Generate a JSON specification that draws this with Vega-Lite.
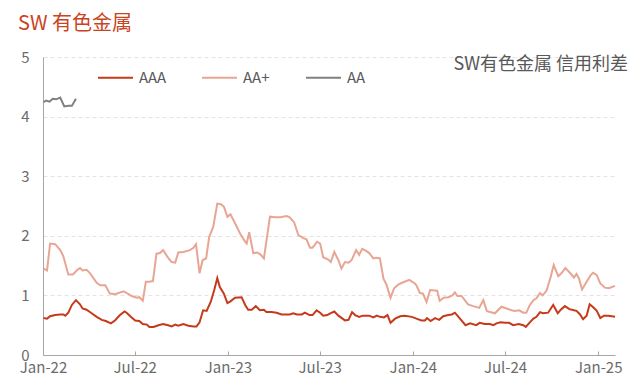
{
"$schema": "https://vega.github.io/schema/vega-lite/v6.json",
"width": 572, "height": 298,
"autosize": {"type": "none"},
"padding": {"left": 43, "top": 57, "right": 25, "bottom": 37},
"background": "white",
"config": {"font": "Noto Sans CJK SC", "view": {"stroke": null}},
"title": {"text": "SW 有色金属", "anchor": "start", "frame": "group", "dx": -25, "offset": 16, "fontSize": 20, "fontWeight": "normal", "color": "#C9431F"},
"layer": [
{"data": {"values": [
{"d":"2022-01-02","s":"AAA","v":0.62},{"d":"2022-01-09","s":"AAA","v":0.61},{"d":"2022-01-15","s":"AAA","v":0.65},{"d":"2022-01-25","s":"AAA","v":0.67},{"d":"2022-02-04","s":"AAA","v":0.68},{"d":"2022-02-10","s":"AAA","v":0.68},{"d":"2022-02-14","s":"AAA","v":0.66},{"d":"2022-02-20","s":"AAA","v":0.71},{"d":"2022-02-27","s":"AAA","v":0.84},{"d":"2022-03-07","s":"AAA","v":0.92},{"d":"2022-03-15","s":"AAA","v":0.85},{"d":"2022-03-20","s":"AAA","v":0.78},{"d":"2022-03-28","s":"AAA","v":0.76},{"d":"2022-04-07","s":"AAA","v":0.70},{"d":"2022-04-17","s":"AAA","v":0.64},{"d":"2022-04-27","s":"AAA","v":0.59},{"d":"2022-05-05","s":"AAA","v":0.57},{"d":"2022-05-15","s":"AAA","v":0.53},{"d":"2022-05-23","s":"AAA","v":0.58},{"d":"2022-06-02","s":"AAA","v":0.67},{"d":"2022-06-11","s":"AAA","v":0.73},{"d":"2022-06-15","s":"AAA","v":0.71},{"d":"2022-06-25","s":"AAA","v":0.63},{"d":"2022-07-02","s":"AAA","v":0.58},{"d":"2022-07-10","s":"AAA","v":0.57},{"d":"2022-07-17","s":"AAA","v":0.52},{"d":"2022-07-25","s":"AAA","v":0.51},{"d":"2022-07-30","s":"AAA","v":0.47},{"d":"2022-08-07","s":"AAA","v":0.47},{"d":"2022-08-17","s":"AAA","v":0.50},{"d":"2022-08-26","s":"AAA","v":0.52},{"d":"2022-09-05","s":"AAA","v":0.50},{"d":"2022-09-12","s":"AAA","v":0.48},{"d":"2022-09-19","s":"AAA","v":0.51},{"d":"2022-09-25","s":"AAA","v":0.49},{"d":"2022-10-05","s":"AAA","v":0.52},{"d":"2022-10-15","s":"AAA","v":0.49},{"d":"2022-10-25","s":"AAA","v":0.48},{"d":"2022-10-31","s":"AAA","v":0.48},{"d":"2022-11-06","s":"AAA","v":0.55},{"d":"2022-11-13","s":"AAA","v":0.75},{"d":"2022-11-20","s":"AAA","v":0.74},{"d":"2022-11-28","s":"AAA","v":0.89},{"d":"2022-12-05","s":"AAA","v":1.09},{"d":"2022-12-11","s":"AAA","v":1.29},{"d":"2022-12-16","s":"AAA","v":1.14},{"d":"2022-12-24","s":"AAA","v":1.03},{"d":"2022-12-31","s":"AAA","v":0.87},{"d":"2023-01-06","s":"AAA","v":0.90},{"d":"2023-01-15","s":"AAA","v":0.96},{"d":"2023-01-28","s":"AAA","v":0.97},{"d":"2023-02-04","s":"AAA","v":0.84},{"d":"2023-02-10","s":"AAA","v":0.76},{"d":"2023-02-17","s":"AAA","v":0.76},{"d":"2023-02-25","s":"AAA","v":0.82},{"d":"2023-03-05","s":"AAA","v":0.75},{"d":"2023-03-13","s":"AAA","v":0.76},{"d":"2023-03-18","s":"AAA","v":0.72},{"d":"2023-03-28","s":"AAA","v":0.72},{"d":"2023-04-07","s":"AAA","v":0.71},{"d":"2023-04-17","s":"AAA","v":0.68},{"d":"2023-04-27","s":"AAA","v":0.68},{"d":"2023-05-03","s":"AAA","v":0.68},{"d":"2023-05-10","s":"AAA","v":0.70},{"d":"2023-05-17","s":"AAA","v":0.68},{"d":"2023-05-27","s":"AAA","v":0.68},{"d":"2023-06-02","s":"AAA","v":0.71},{"d":"2023-06-11","s":"AAA","v":0.67},{"d":"2023-06-17","s":"AAA","v":0.67},{"d":"2023-06-25","s":"AAA","v":0.75},{"d":"2023-07-02","s":"AAA","v":0.71},{"d":"2023-07-08","s":"AAA","v":0.66},{"d":"2023-07-16","s":"AAA","v":0.67},{"d":"2023-07-22","s":"AAA","v":0.70},{"d":"2023-07-30","s":"AAA","v":0.73},{"d":"2023-08-07","s":"AAA","v":0.66},{"d":"2023-08-20","s":"AAA","v":0.58},{"d":"2023-08-27","s":"AAA","v":0.59},{"d":"2023-09-03","s":"AAA","v":0.72},{"d":"2023-09-09","s":"AAA","v":0.67},{"d":"2023-09-17","s":"AAA","v":0.64},{"d":"2023-09-24","s":"AAA","v":0.66},{"d":"2023-10-07","s":"AAA","v":0.66},{"d":"2023-10-15","s":"AAA","v":0.63},{"d":"2023-10-22","s":"AAA","v":0.66},{"d":"2023-10-28","s":"AAA","v":0.64},{"d":"2023-11-05","s":"AAA","v":0.63},{"d":"2023-11-12","s":"AAA","v":0.67},{"d":"2023-11-18","s":"AAA","v":0.54},{"d":"2023-11-27","s":"AAA","v":0.61},{"d":"2023-12-07","s":"AAA","v":0.65},{"d":"2023-12-16","s":"AAA","v":0.66},{"d":"2023-12-30","s":"AAA","v":0.64},{"d":"2024-01-08","s":"AAA","v":0.61},{"d":"2024-01-18","s":"AAA","v":0.58},{"d":"2024-01-25","s":"AAA","v":0.58},{"d":"2024-01-29","s":"AAA","v":0.62},{"d":"2024-02-05","s":"AAA","v":0.57},{"d":"2024-02-14","s":"AAA","v":0.62},{"d":"2024-02-22","s":"AAA","v":0.59},{"d":"2024-03-01","s":"AAA","v":0.65},{"d":"2024-03-11","s":"AAA","v":0.67},{"d":"2024-03-18","s":"AAA","v":0.68},{"d":"2024-03-24","s":"AAA","v":0.71},{"d":"2024-04-03","s":"AAA","v":0.61},{"d":"2024-04-14","s":"AAA","v":0.50},{"d":"2024-04-23","s":"AAA","v":0.53},{"d":"2024-05-05","s":"AAA","v":0.50},{"d":"2024-05-12","s":"AAA","v":0.54},{"d":"2024-05-22","s":"AAA","v":0.52},{"d":"2024-06-01","s":"AAA","v":0.52},{"d":"2024-06-08","s":"AAA","v":0.50},{"d":"2024-06-14","s":"AAA","v":0.53},{"d":"2024-06-22","s":"AAA","v":0.55},{"d":"2024-07-01","s":"AAA","v":0.54},{"d":"2024-07-09","s":"AAA","v":0.54},{"d":"2024-07-17","s":"AAA","v":0.50},{"d":"2024-07-28","s":"AAA","v":0.52},{"d":"2024-08-06","s":"AAA","v":0.50},{"d":"2024-08-11","s":"AAA","v":0.47},{"d":"2024-08-18","s":"AAA","v":0.54},{"d":"2024-08-26","s":"AAA","v":0.61},{"d":"2024-09-01","s":"AAA","v":0.64},{"d":"2024-09-08","s":"AAA","v":0.72},{"d":"2024-09-14","s":"AAA","v":0.70},{"d":"2024-09-24","s":"AAA","v":0.71},{"d":"2024-10-04","s":"AAA","v":0.84},{"d":"2024-10-13","s":"AAA","v":0.70},{"d":"2024-10-19","s":"AAA","v":0.76},{"d":"2024-10-27","s":"AAA","v":0.82},{"d":"2024-11-05","s":"AAA","v":0.77},{"d":"2024-11-14","s":"AAA","v":0.75},{"d":"2024-11-19","s":"AAA","v":0.74},{"d":"2024-11-26","s":"AAA","v":0.68},{"d":"2024-12-02","s":"AAA","v":0.60},{"d":"2024-12-09","s":"AAA","v":0.66},{"d":"2024-12-15","s":"AAA","v":0.85},{"d":"2024-12-22","s":"AAA","v":0.80},{"d":"2024-12-29","s":"AAA","v":0.74},{"d":"2025-01-05","s":"AAA","v":0.62},{"d":"2025-01-12","s":"AAA","v":0.66},{"d":"2025-01-21","s":"AAA","v":0.66},{"d":"2025-02-03","s":"AAA","v":0.64},
{"d":"2022-01-02","s":"AA+","v":1.45},{"d":"2022-01-09","s":"AA+","v":1.42},{"d":"2022-01-15","s":"AA+","v":1.87},{"d":"2022-01-25","s":"AA+","v":1.86},{"d":"2022-02-04","s":"AA+","v":1.76},{"d":"2022-02-10","s":"AA+","v":1.66},{"d":"2022-02-20","s":"AA+","v":1.35},{"d":"2022-03-01","s":"AA+","v":1.35},{"d":"2022-03-10","s":"AA+","v":1.43},{"d":"2022-03-15","s":"AA+","v":1.46},{"d":"2022-03-20","s":"AA+","v":1.42},{"d":"2022-03-28","s":"AA+","v":1.43},{"d":"2022-04-04","s":"AA+","v":1.37},{"d":"2022-04-17","s":"AA+","v":1.21},{"d":"2022-04-24","s":"AA+","v":1.17},{"d":"2022-05-04","s":"AA+","v":1.17},{"d":"2022-05-13","s":"AA+","v":1.03},{"d":"2022-05-23","s":"AA+","v":1.02},{"d":"2022-06-09","s":"AA+","v":1.07},{"d":"2022-06-19","s":"AA+","v":1.02},{"d":"2022-06-25","s":"AA+","v":0.99},{"d":"2022-07-05","s":"AA+","v":0.96},{"d":"2022-07-10","s":"AA+","v":0.97},{"d":"2022-07-17","s":"AA+","v":0.91},{"d":"2022-07-23","s":"AA+","v":1.23},{"d":"2022-07-30","s":"AA+","v":1.23},{"d":"2022-08-06","s":"AA+","v":1.24},{"d":"2022-08-13","s":"AA+","v":1.70},{"d":"2022-08-20","s":"AA+","v":1.71},{"d":"2022-08-26","s":"AA+","v":1.76},{"d":"2022-09-05","s":"AA+","v":1.63},{"d":"2022-09-12","s":"AA+","v":1.56},{"d":"2022-09-19","s":"AA+","v":1.55},{"d":"2022-09-25","s":"AA+","v":1.72},{"d":"2022-10-05","s":"AA+","v":1.73},{"d":"2022-10-18","s":"AA+","v":1.76},{"d":"2022-10-25","s":"AA+","v":1.80},{"d":"2022-10-30","s":"AA+","v":1.86},{"d":"2022-11-06","s":"AA+","v":1.37},{"d":"2022-11-12","s":"AA+","v":1.59},{"d":"2022-11-19","s":"AA+","v":1.62},{"d":"2022-11-25","s":"AA+","v":1.98},{"d":"2022-12-03","s":"AA+","v":2.15},{"d":"2022-12-11","s":"AA+","v":2.54},{"d":"2022-12-18","s":"AA+","v":2.53},{"d":"2022-12-24","s":"AA+","v":2.49},{"d":"2022-12-31","s":"AA+","v":2.32},{"d":"2023-01-06","s":"AA+","v":2.36},{"d":"2023-01-15","s":"AA+","v":2.21},{"d":"2023-01-25","s":"AA+","v":2.04},{"d":"2023-02-04","s":"AA+","v":1.90},{"d":"2023-02-07","s":"AA+","v":1.87},{"d":"2023-02-12","s":"AA+","v":2.06},{"d":"2023-02-20","s":"AA+","v":1.71},{"d":"2023-02-28","s":"AA+","v":1.72},{"d":"2023-03-07","s":"AA+","v":1.68},{"d":"2023-03-13","s":"AA+","v":1.62},{"d":"2023-03-25","s":"AA+","v":2.32},{"d":"2023-04-04","s":"AA+","v":2.31},{"d":"2023-04-14","s":"AA+","v":2.31},{"d":"2023-04-27","s":"AA+","v":2.33},{"d":"2023-05-03","s":"AA+","v":2.31},{"d":"2023-05-12","s":"AA+","v":2.22},{"d":"2023-05-20","s":"AA+","v":2.01},{"d":"2023-05-30","s":"AA+","v":1.96},{"d":"2023-06-05","s":"AA+","v":1.94},{"d":"2023-06-12","s":"AA+","v":1.80},{"d":"2023-06-17","s":"AA+","v":1.80},{"d":"2023-06-26","s":"AA+","v":1.90},{"d":"2023-07-02","s":"AA+","v":1.87},{"d":"2023-07-08","s":"AA+","v":1.64},{"d":"2023-07-18","s":"AA+","v":1.60},{"d":"2023-07-23","s":"AA+","v":1.56},{"d":"2023-07-30","s":"AA+","v":1.73},{"d":"2023-08-07","s":"AA+","v":1.59},{"d":"2023-08-13","s":"AA+","v":1.45},{"d":"2023-08-20","s":"AA+","v":1.56},{"d":"2023-08-27","s":"AA+","v":1.55},{"d":"2023-09-02","s":"AA+","v":1.59},{"d":"2023-09-11","s":"AA+","v":1.76},{"d":"2023-09-17","s":"AA+","v":1.68},{"d":"2023-09-23","s":"AA+","v":1.78},{"d":"2023-09-30","s":"AA+","v":1.75},{"d":"2023-10-07","s":"AA+","v":1.71},{"d":"2023-10-15","s":"AA+","v":1.62},{"d":"2023-10-22","s":"AA+","v":1.63},{"d":"2023-10-28","s":"AA+","v":1.62},{"d":"2023-11-04","s":"AA+","v":1.28},{"d":"2023-11-10","s":"AA+","v":1.18},{"d":"2023-11-18","s":"AA+","v":0.96},{"d":"2023-11-25","s":"AA+","v":1.12},{"d":"2023-12-03","s":"AA+","v":1.18},{"d":"2023-12-13","s":"AA+","v":1.22},{"d":"2023-12-25","s":"AA+","v":1.26},{"d":"2024-01-05","s":"AA+","v":1.20},{"d":"2024-01-08","s":"AA+","v":1.17},{"d":"2024-01-15","s":"AA+","v":1.04},{"d":"2024-01-21","s":"AA+","v":1.03},{"d":"2024-01-28","s":"AA+","v":0.89},{"d":"2024-02-04","s":"AA+","v":1.09},{"d":"2024-02-18","s":"AA+","v":1.08},{"d":"2024-02-23","s":"AA+","v":0.91},{"d":"2024-03-02","s":"AA+","v":0.96},{"d":"2024-03-11","s":"AA+","v":0.97},{"d":"2024-03-19","s":"AA+","v":1.00},{"d":"2024-03-24","s":"AA+","v":1.05},{"d":"2024-03-29","s":"AA+","v":0.99},{"d":"2024-04-06","s":"AA+","v":0.99},{"d":"2024-04-19","s":"AA+","v":0.85},{"d":"2024-04-29","s":"AA+","v":0.82},{"d":"2024-05-11","s":"AA+","v":0.79},{"d":"2024-05-19","s":"AA+","v":0.92},{"d":"2024-05-26","s":"AA+","v":0.74},{"d":"2024-06-01","s":"AA+","v":0.72},{"d":"2024-06-11","s":"AA+","v":0.70},{"d":"2024-06-24","s":"AA+","v":0.81},{"d":"2024-07-04","s":"AA+","v":0.78},{"d":"2024-07-14","s":"AA+","v":0.75},{"d":"2024-07-20","s":"AA+","v":0.74},{"d":"2024-07-29","s":"AA+","v":0.75},{"d":"2024-08-06","s":"AA+","v":0.71},{"d":"2024-08-12","s":"AA+","v":0.71},{"d":"2024-08-19","s":"AA+","v":0.84},{"d":"2024-08-26","s":"AA+","v":0.92},{"d":"2024-09-01","s":"AA+","v":0.95},{"d":"2024-09-08","s":"AA+","v":1.04},{"d":"2024-09-13","s":"AA+","v":1.00},{"d":"2024-09-21","s":"AA+","v":1.08},{"d":"2024-09-29","s":"AA+","v":1.31},{"d":"2024-10-05","s":"AA+","v":1.51},{"d":"2024-10-14","s":"AA+","v":1.32},{"d":"2024-10-21","s":"AA+","v":1.38},{"d":"2024-10-28","s":"AA+","v":1.46},{"d":"2024-11-06","s":"AA+","v":1.38},{"d":"2024-11-14","s":"AA+","v":1.30},{"d":"2024-11-19","s":"AA+","v":1.36},{"d":"2024-11-24","s":"AA+","v":1.28},{"d":"2024-11-30","s":"AA+","v":1.10},{"d":"2024-12-09","s":"AA+","v":1.23},{"d":"2024-12-17","s":"AA+","v":1.34},{"d":"2024-12-22","s":"AA+","v":1.38},{"d":"2024-12-29","s":"AA+","v":1.34},{"d":"2025-01-05","s":"AA+","v":1.20},{"d":"2025-01-14","s":"AA+","v":1.13},{"d":"2025-01-22","s":"AA+","v":1.12},{"d":"2025-02-03","s":"AA+","v":1.16},
{"d":"2022-01-02","s":"AA","v":4.24},{"d":"2022-01-07","s":"AA","v":4.27},{"d":"2022-01-14","s":"AA","v":4.25},{"d":"2022-01-20","s":"AA","v":4.30},{"d":"2022-01-27","s":"AA","v":4.29},{"d":"2022-02-04","s":"AA","v":4.32},{"d":"2022-02-12","s":"AA","v":4.17},{"d":"2022-02-20","s":"AA","v":4.18},{"d":"2022-02-27","s":"AA","v":4.18},{"d":"2022-03-07","s":"AA","v":4.30}
]},
"mark": {"type": "line", "strokeWidth": 2},
"encoding": {
"x": {"field": "d", "type": "temporal", "scale": {"domain": ["2022-01-01", "2025-02-03"]},
 "axis": {"title": null, "format": "%b-%y", "tickCount": {"interval": "month", "step": 6}, "grid": false, "domainColor": "#a6a6a6", "tickColor": "#a6a6a6", "tickSize": -4, "labelPadding": 9, "labelFontSize": 15, "labelColor": "#6b6b6b", "labelFlush": false}},
"y": {"field": "v", "type": "quantitative", "scale": {"domain": [0, 5]},
 "axis": {"title": null, "values": [0,1,2,3,4,5], "format": "d", "grid": true, "gridDash": [4,3], "gridColor": "#e3e3e3", "domainColor": "#a6a6a6", "ticks": false, "labelPadding": 14, "labelFontSize": 15, "labelColor": "#6b6b6b"}},
"color": {"field": "s", "type": "nominal", "scale": {"domain": ["AAA", "AA+", "AA"], "range": ["#C53A1A", "#E9A594", "#808080"]},
 "legend": {"orient": "none", "legendX": 54, "legendY": 2, "direction": "horizontal", "columns": 3, "gridAlign": "all", "title": null, "symbolType": "stroke", "symbolSize": 1225, "symbolStrokeWidth": 2, "labelFontSize": 15, "labelColor": "#595959", "labelOffset": 5, "columnPadding": 31}}
}},
{"data": {"values": [{"t": "SW有色金属 信用利差"}]},
"mark": {"type": "text", "align": "right", "baseline": "middle", "dx": 13, "fontSize": 18, "color": "#595959"},
"encoding": {"x": {"datum": {"year": 2025, "month": 2, "date": 3}, "type": "temporal"}, "y": {"datum": 4.86, "type": "quantitative"}, "text": {"field": "t"}}}
]
}
